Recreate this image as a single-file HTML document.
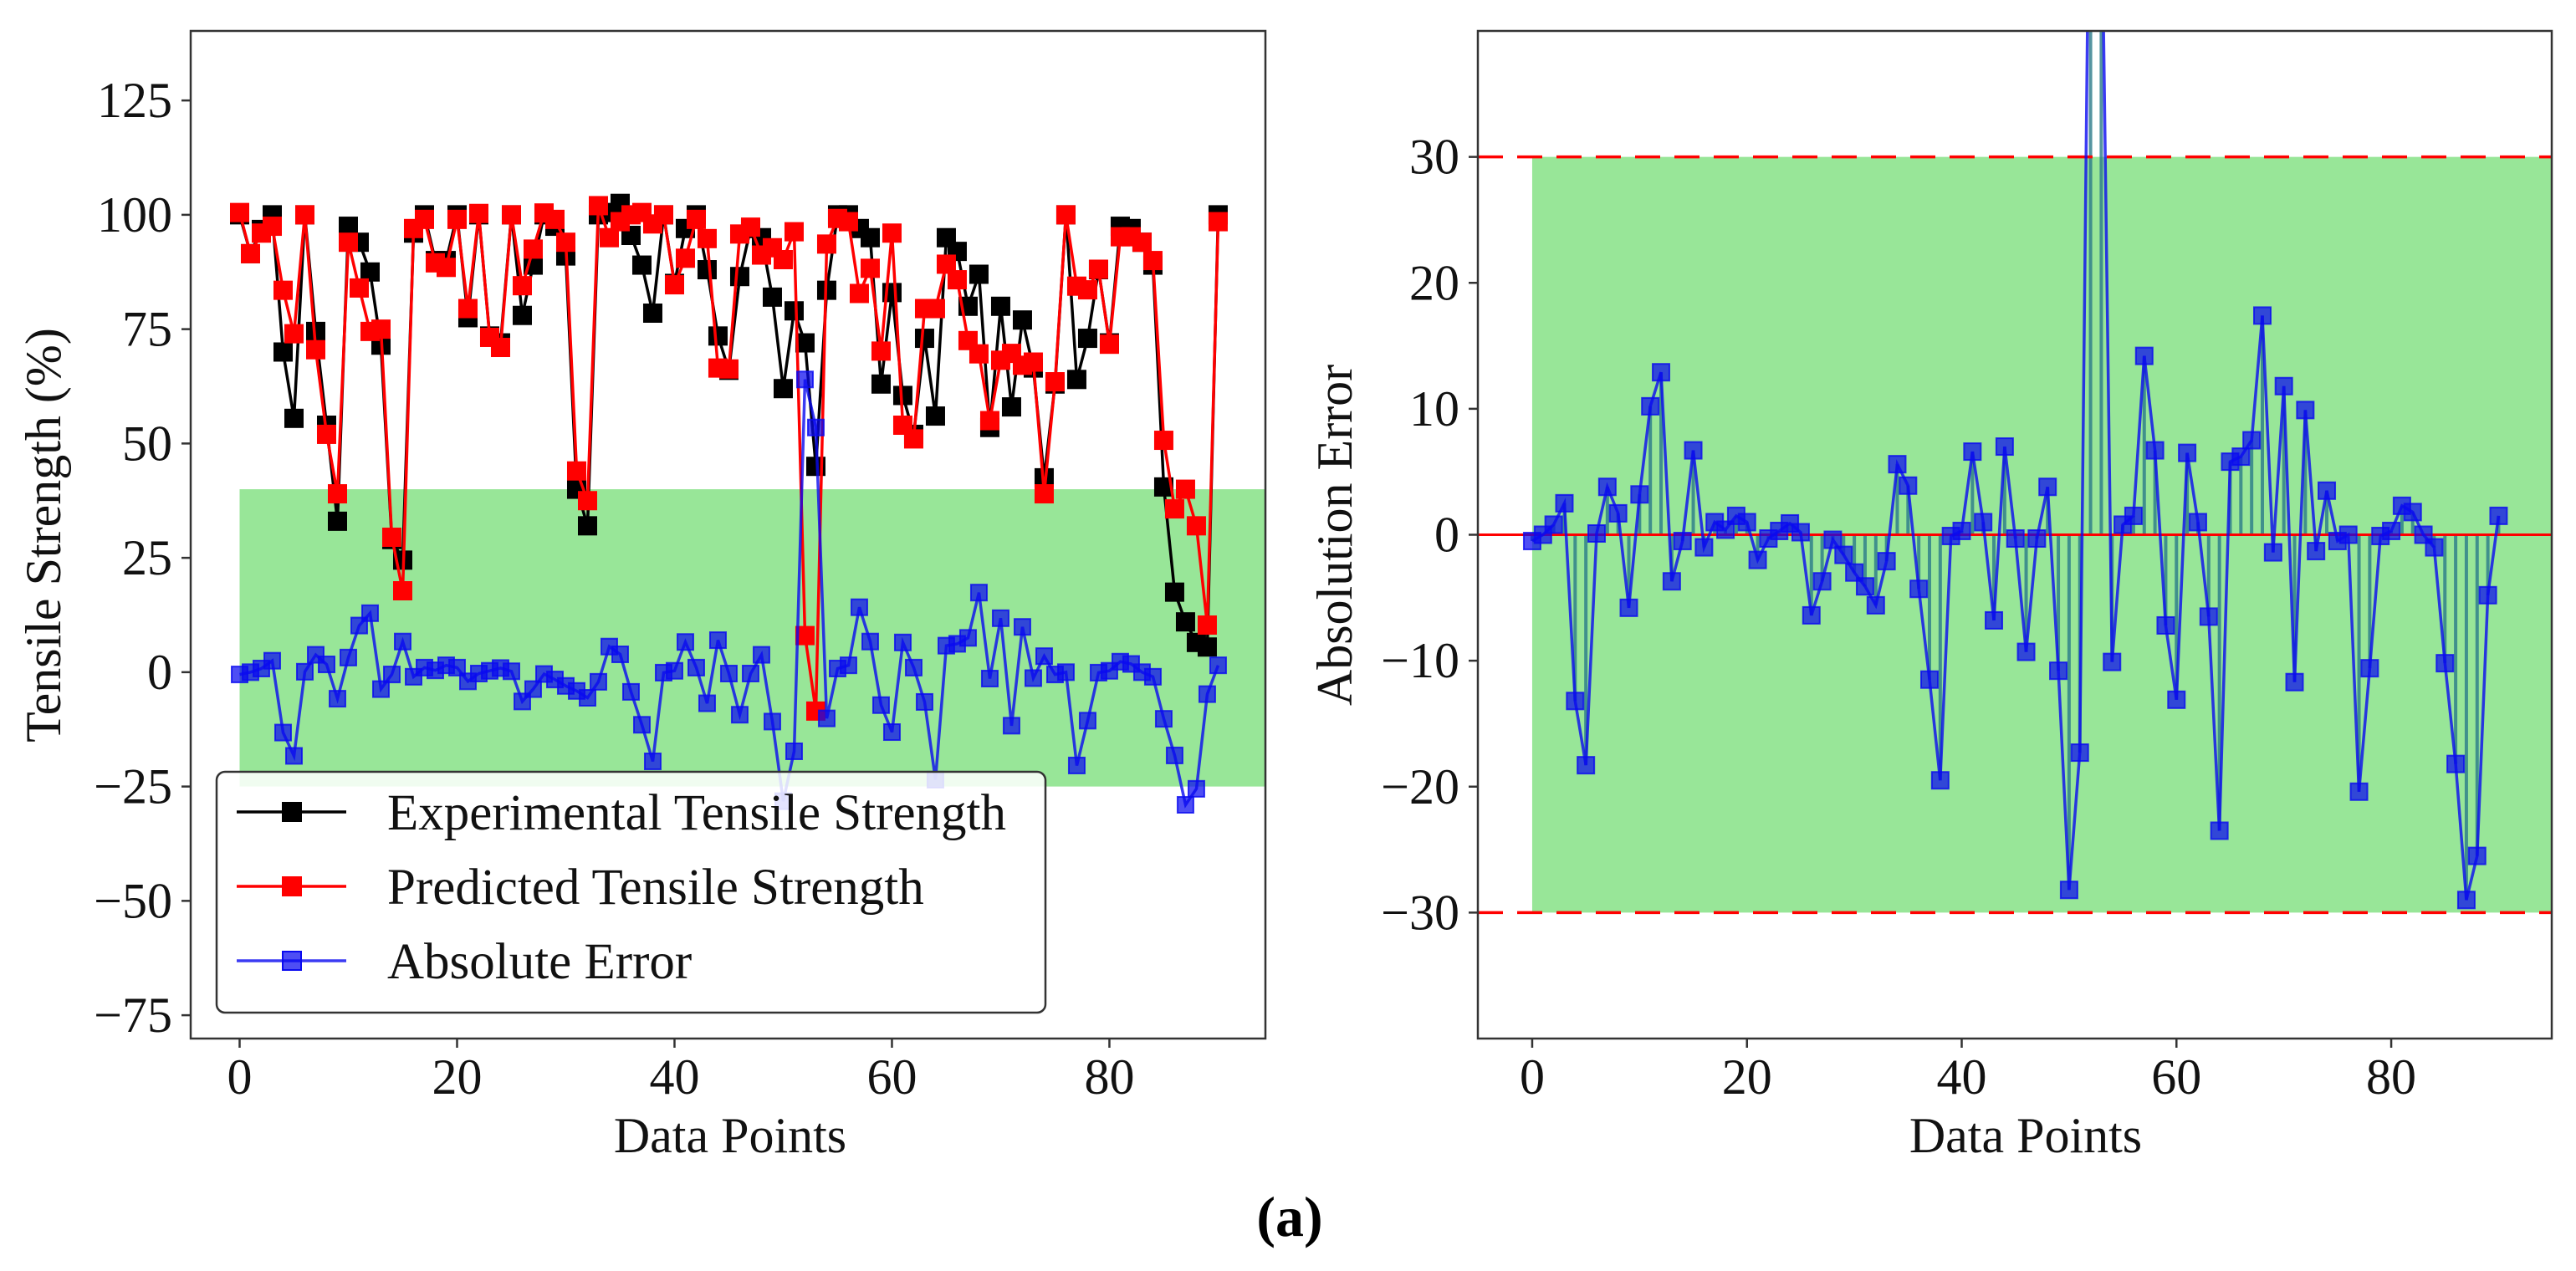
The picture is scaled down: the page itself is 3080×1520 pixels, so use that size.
<!DOCTYPE html>
<html><head><meta charset="utf-8">
<style>
html,body{margin:0;padding:0;background:#fff;}
svg{display:block;font-family:"Liberation Serif",serif;}
</style></head>
<body>
<svg id="chart" width="3080" height="1520" viewBox="0 0 3080 1520" xmlns="http://www.w3.org/2000/svg">
<defs>
<clipPath id="clipL"><rect x="228" y="37" width="1285" height="1205"/></clipPath>
<clipPath id="clipR"><rect x="1767" y="37" width="1284" height="1205"/></clipPath>
</defs>
<g id="left"></g>
<g id="right"></g>
<text x="1542" y="1478" font-size="68" font-weight="bold" text-anchor="middle">(a)</text>
</svg>
<script>
const indices = Array.from({length:91},(_,i)=>i);
const experimental = [100,91.5,96.8,100,70,55.5,100,74.5,54,33,97.5,94,87.5,71.5,29,24.5,96,100,90,90,100,77.5,100,73.5,72,100,78,89,100,97.5,91,40,32,100,100.5,102.5,95.5,89,78.5,100,85,97,100,88,73.5,66,86.5,97,95,82,62,79,72,45,83.5,100,100,97,95,63,83,60.5,52,73,56,95,92,80,87,53.5,80,58,77,66.5,42.5,63,100,64,73,88,72,97.5,97,94,89,40.5,17.5,11,6.5,5.5,100];
const predicted = [100.5,91.5,96,97.5,83.5,74,100,70.5,52,39,94,84,74.5,75,29.5,17.8,97,99,89.5,88.5,99,79.5,100.3,73.2,71,100,84.5,92.5,100.4,99,94,44,37.5,102,95,98.5,100,100.5,98,100,84.7,90.5,99,94.8,66.5,66.3,95.8,97.3,91.2,92.8,90.2,96.3,8,-8.5,93.6,99.2,98.5,82.8,88.3,70.2,96,54,51,79.5,79.5,89.2,85.8,72.5,69.6,55,68.2,69.7,67.1,67.8,39,63.5,100,84.4,83.6,88.1,71.7,95.2,95.2,94,90,50.7,35.7,40,32,10.3,98.5];
const absError = [-0.5,0,0.8,2.5,-13.2,-18.3,0.1,3.8,1.7,-5.8,3.2,10.2,12.9,-3.7,-0.5,6.7,-1,1,0.4,1.5,1,-2,-0.3,0.3,0.9,0.2,-6.4,-3.7,-0.4,-1.6,-3,-4.1,-5.6,-2.1,5.6,3.9,-4.3,-11.5,-19.5,-0.1,0.3,6.6,1,-6.8,7,-0.3,-9.3,-0.3,3.8,-10.8,-28.2,-17.3,64,53.5,-10.1,0.8,1.5,14.2,6.7,-7.2,-13.1,6.5,1,-6.5,-23.5,5.8,6.2,7.5,17.4,-1.4,11.8,-11.7,9.9,-1.3,3.5,-0.5,0,-20.4,-10.6,-0.1,0.3,2.3,1.8,0,-1,-10.2,-18.2,-29,-25.5,-4.8,1.5];
const xTicks = [0,20,40,60,80];
const yTicksLeft = [125,100,75,50,25,0,-25,-50,-75];
const yTickLabelsLeft = ["125","100","75","50","25","0","\u221225","\u221250","\u221275"];
const yTicksRight = [30,20,10,0,-10,-20,-30];
const yTickLabelsRight = ["30","20","10","0","\u221210","\u221220","\u221230"];
const legendLabels = ["Experimental Tensile Strength","Predicted Tensile Strength","Absolute Error"];
const leftBand = [-25,40];
const rightBand = [-30,30];

const NS="http://www.w3.org/2000/svg";
function mk(parent,tag,attrs){const e=document.createElementNS(NS,tag);for(const k in attrs)e.setAttribute(k,attrs[k]);parent.appendChild(e);return e;}

const L={x0:228,x1:1513,y0:37,y1:1242,xmin:-4.5,xmax:94.35,ymin:-80.1,ymax:140.2,xt:873,ylx:72};
const R={x0:1767,x1:3051,y0:37,y1:1242,xmin:-5.06,xmax:94.95,ymin:-40,ymax:40,xt:2422,ylx:1616};
function sx(A,v){return A.x0+(v-A.xmin)/(A.xmax-A.xmin)*(A.x1-A.x0);}
function sy(A,v){return A.y1-(v-A.ymin)/(A.ymax-A.ymin)*(A.y1-A.y0);}

function axes(g,A,yt,ytl,ylabel){
  for(let i=0;i<xTicks.length;i++){
    const x=sx(A,xTicks[i]);
    const t=mk(g,'line',{x1:x,x2:x,y1:A.y1,y2:A.y1+11,stroke:'#333','stroke-width':2.5});
    
    const tx=mk(g,'text',{x:x,y:A.y1+66,'font-size':60,'text-anchor':'middle',fill:'#111'});
    tx.textContent=String(xTicks[i]);
    
  }
  for(let i=0;i<yt.length;i++){
    const y=sy(A,yt[i]);
    const t=mk(g,'line',{x1:A.x0-11,x2:A.x0,y1:y,y2:y,stroke:'#333','stroke-width':2.5});
    
    const tx=mk(g,'text',{x:A.x0-22,y:y+20,'font-size':60,'text-anchor':'end',fill:'#111'});
    tx.textContent=ytl[i];
    
  }
  const fr=mk(g,'rect',{x:A.x0,y:A.y0,width:A.x1-A.x0,height:A.y1-A.y0,fill:'none',stroke:'#333','stroke-width':2.5});
  
  const xl=mk(g,'text',{x:A.xt,y:1378,'font-size':60,'text-anchor':'middle',fill:'#111'});
  xl.textContent='Data Points';
  
  const yl=mk(g,'text',{x:0,y:0,'font-size':60,'text-anchor':'middle',fill:'#111',transform:`translate(${A.ylx},640) rotate(-90)`});
  yl.textContent=ylabel;
  
}

function series(g,A,vals,color,lw,ms,fillOp,lineOp,name,clip){
  const pts=vals.map((v,i)=>sx(A,indices[i]).toFixed(1)+','+sy(A,v).toFixed(1)).join(' ');
  const pl=mk(g,'polyline',{points:pts,fill:'none',stroke:color,'stroke-width':lw,'stroke-opacity':lineOp,'clip-path':clip});
  
  vals.forEach((v,i)=>{
    const x=sx(A,indices[i]),y=sy(A,v);
    const r=mk(g,'rect',{x:x-ms/2,y:y-ms/2,width:ms,height:ms,fill:color,'fill-opacity':fillOp,stroke:color,'stroke-width':2,'stroke-opacity':lineOp,'clip-path':clip});
    
  });
}

// LEFT PANEL
const gl=document.getElementById('left');
const bl=mk(gl,'rect',{x:sx(L,0),y:sy(L,leftBand[1]),width:L.x1-sx(L,0),height:sy(L,leftBand[0])-sy(L,leftBand[1]),fill:'#98e698'});

series(gl,L,experimental,'#000',3.5,21,1,1,'experimental','url(#clipL)');
series(gl,L,predicted,'#ff0000',3.5,21,1,1,'predicted','url(#clipL)');
series(gl,L,absError,'#0a0af0',3.5,19,0.72,0.8,'absolute-error','url(#clipL)');
axes(gl,L,yTicksLeft,yTickLabelsLeft,'Tensile Strength (%)');
const lg=mk(gl,'g',{});

const lb=mk(lg,'rect',{x:259,y:923,width:991,height:288,rx:10,fill:'#fff','fill-opacity':0.85,stroke:'#333','stroke-width':2.5});

const lcols=['#000','#ff0000','#0a0af0'];
legendLabels.forEach((lab,i)=>{
  const y=971+i*89;
  const ln=mk(lg,'line',{x1:283,x2:414,y1:y,y2:y,stroke:lcols[i],'stroke-width':3.5,'stroke-opacity':i==2?0.8:1});
  
  const mkk=mk(lg,'rect',{x:338,y:y-11,width:22,height:22,fill:lcols[i],'fill-opacity':i==2?0.72:1,stroke:lcols[i],'stroke-width':2});
  
  const t=mk(lg,'text',{x:463,y:y+21,'font-size':61,fill:'#111'});
  t.textContent=lab;
  
});

// RIGHT PANEL
const gr=document.getElementById('right');
const br=mk(gr,'rect',{x:sx(R,0),y:sy(R,rightBand[1]),width:R.x1-sx(R,0),height:sy(R,rightBand[0])-sy(R,rightBand[1]),fill:'#98e698'});

absError.forEach((v,i)=>{
  const x=sx(R,indices[i]);
  const s=mk(gr,'line',{x1:x,x2:x,y1:sy(R,0),y2:sy(R,v),stroke:'#2a7a8a','stroke-opacity':0.8,'stroke-width':4,'clip-path':'url(#clipR)'});
  
});
const zl=mk(gr,'line',{x1:R.x0,x2:R.x1,y1:sy(R,0),y2:sy(R,0),stroke:'#ff0000','stroke-width':3});

rightBand.forEach(b=>{
  const d=mk(gr,'line',{x1:R.x0,x2:R.x1,y1:sy(R,b),y2:sy(R,b),stroke:'#ff0000','stroke-width':3.5,'stroke-dasharray':'30 17'});
  
});
series(gr,R,absError,'#0a0af0',3.5,20,0.72,0.8,'absolute-error','url(#clipR)');
axes(gr,R,yTicksRight,yTickLabelsRight,'Absolution Error');
</script>
</body></html>
